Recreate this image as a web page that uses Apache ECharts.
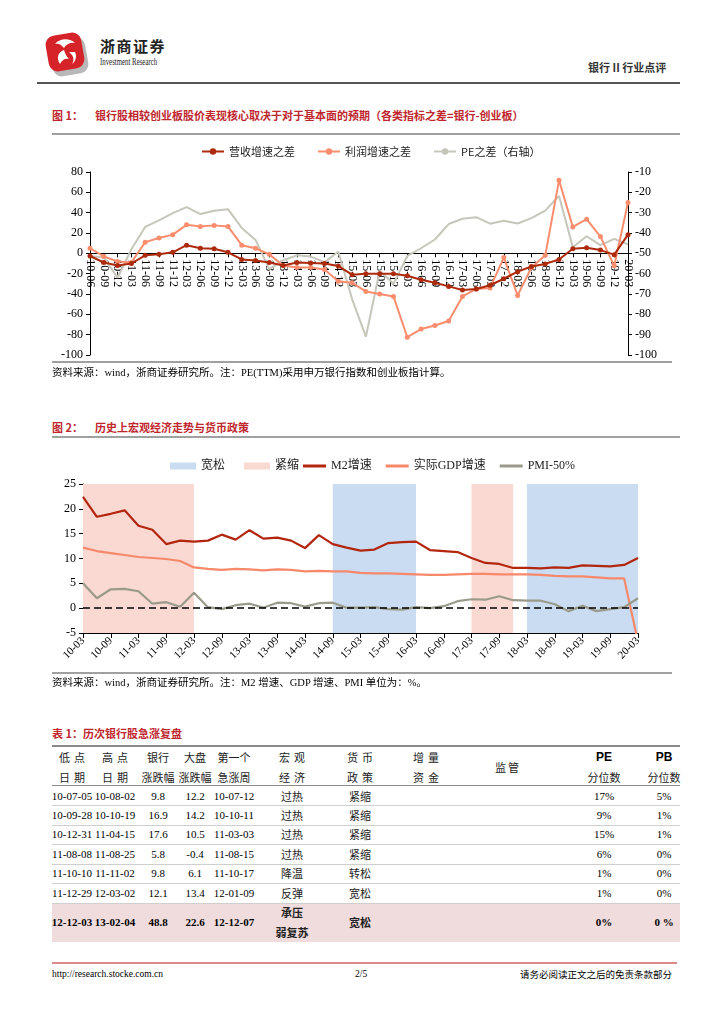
<!DOCTYPE html>
<html><head><meta charset="utf-8">
<script src="https://cdn.jsdelivr.net/npm/echarts@6/dist/echarts.min.js"></script>
<style>
body{margin:0;background:#fff;}
#page{position:relative;width:724px;height:1024px;overflow:hidden;font-family:"Liberation Serif","Noto Sans CJK SC",serif;color:#000;}
.abs{position:absolute;white-space:nowrap;}
.title{position:absolute;font-family:"Noto Sans CJK SC",sans-serif;font-weight:bold;color:#c0262d;font-size:11px;line-height:14px;white-space:nowrap;}
.hr{position:absolute;height:0;border-top:2px solid #a0a0a0;}
.src{position:absolute;font-size:10.5px;line-height:14px;white-space:nowrap;}
.cell{position:absolute;transform:translateX(-50%);white-space:nowrap;line-height:14px;font-size:11px;text-align:center;}
.cn{font-family:"Noto Sans CJK SC",sans-serif;font-size:11px;color:#222;}
.en{font-family:"Liberation Sans",sans-serif;font-weight:bold;font-size:12px;}
.bold{font-weight:bold;}
</style></head>
<body><div id="page">
<!-- header -->
<svg class="abs" style="left:42px;top:28px" width="50" height="52" viewBox="0 0 50 52">
  <rect x="9" y="11" width="36" height="36" rx="9" fill="#b8b8b8" transform="rotate(-10 27 29)"/>
  <rect x="5" y="6" width="36" height="36" rx="9" fill="#d6232a" transform="rotate(-10 23 24)"/>
  <path d="M13 16 C18 10,28 10,33 15 C29 14,24 16,22 20 C19 16,16 15,13 16Z" fill="#fff"/>
  <path d="M22 22 C16 24,14 30,18 36 C20 32,23 30,27 31 C24 28,23 25,22 22Z" fill="#fff"/>
  <path d="M27 24 C31 27,33 31,30 36 C34 33,35 28,33 24Z" fill="#fff"/>
</svg>
<div class="abs" style="left:100px;top:37px;font-family:'Noto Sans CJK SC';font-weight:bold;font-size:15px;letter-spacing:1.5px;line-height:18px;color:#222">浙商证券</div>
<div class="abs" style="left:100px;top:57px;font-family:'Liberation Serif';font-size:9.5px;line-height:11px;transform:scaleX(0.72);transform-origin:left;color:#222">Investment Research</div>
<div class="abs" style="left:588px;top:60px;font-family:'Noto Sans CJK SC';font-weight:bold;font-size:11px;line-height:14px;color:#333">银行 II 行业点评</div>
<div class="hr" style="left:37px;top:82px;width:643px;border-top:2px solid #555"></div>

<!-- figure 1 -->
<div class="title" style="left:52px;top:108px">图 1：<span style="margin-left:12px">银行股相较创业板股价表现核心取决于对于基本面的预期（各类指标之差=银行-创业板）</span></div>
<div class="hr" style="left:52px;top:133px;width:628px"></div>
<div id="c1" class="abs" style="left:0;top:138px;width:724px;height:225px"></div>
<div class="hr" style="left:52px;top:361px;width:620px"></div>
<div class="src" style="left:52px;top:366px">资料来源：wind，浙商证券研究所。注：PE(TTM)采用申万银行指数和创业板指计算。</div>

<!-- figure 2 -->
<div class="title" style="left:52px;top:420px">图 2：<span style="margin-left:12px">历史上宏观经济走势与货币政策</span></div>
<div class="hr" style="left:52px;top:436px;width:628px"></div>
<div id="c2" class="abs" style="left:0;top:448px;width:724px;height:225px"></div>
<div class="hr" style="left:52px;top:672px;width:620px"></div>
<div class="src" style="left:52px;top:676px">资料来源：wind，浙商证券研究所。注：M2 增速、GDP 增速、PMI 单位为：%。</div>

<!-- table -->
<div class="title" style="left:52px;top:726px">表 1：历次银行股急涨复盘</div>
<div id="tbl"></div>

<!-- footer -->
<div class="hr" style="left:52px;top:962px;width:625px;border-top:2px solid #d98a8c"></div>
<div class="abs" style="left:52px;top:968px;font-size:9.5px;line-height:12px">http://research.stocke.com.cn</div>
<div class="abs" style="left:355px;top:968px;font-size:9.5px;line-height:12px">2/5</div>
<div class="abs" style="right:52px;top:968px;font-size:9.5px;line-height:12px;font-family:'Noto Sans CJK SC'">请务必阅读正文之后的免责条款部分</div>
</div>
<script>
// ---------- Figure 1 data ----------
const cats1 = ['10-06','10-09','10-12','11-03','11-06','11-09','11-12','12-03','12-06','12-09','12-12','13-03','13-06','13-09','13-12','14-03','14-06','14-09','14-12','15-03','15-06','15-09','15-12','16-03','16-06','16-09','16-12','17-03','17-06','17-09','17-12','18-03','18-06','18-09','18-12','19-03','19-06','19-09','19-12','20-03'];
const revDiff = [-2.6,-9,-12,-10,-2,-1,1,8,5,4.5,1,-6,-7,-9,-12,-9,-9.5,-10,-12.5,-21,-20,-20,-20,-22,-26,-29,-32.5,-36,-35,-31.4,-25,-18,-13,-10.4,-6,4.5,5.5,3.2,-1.3,18.4];
const profitDiff = [5,-3,-8,-9,11,15,18.4,28,26.5,27.5,26.5,8,5,-1,-12,-14,-14,-16,-27.5,-29,-37.5,-40,-42.4,-82.5,-74.5,-71,-66.5,-42.4,-35,-34,-4.2,-41.4,-14,-2,71.8,26,33.6,16.5,-12.3,50];
const peDiff = [-51.3,-52,-62,-48,-37,-33.8,-30.2,-27.3,-30.7,-29.1,-28.3,-37.5,-43.4,-57.8,-53.4,-51,-51.6,-54.3,-49.2,-72.5,-91,-58.6,-65,-51.3,-47.5,-43.2,-35.6,-33,-32.2,-35.4,-34,-35.3,-32.7,-29,-21.8,-47,-41.6,-46,-42.9,-45.6];

// ---------- Figure 2 data ----------
const cats2 = ['10-03','10-06','10-09','10-12','11-03','11-06','11-09','11-12','12-03','12-06','12-09','12-12','13-03','13-06','13-09','13-12','14-03','14-06','14-09','14-12','15-03','15-06','15-09','15-12','16-03','16-06','16-09','16-12','17-03','17-06','17-09','17-12','18-03','18-06','18-09','18-12','19-03','19-06','19-09','19-12','20-03'];
const m2Growth = [22.4,18.4,19.0,19.7,16.6,15.8,12.9,13.6,13.4,13.6,14.8,13.8,15.7,14.0,14.2,13.6,12.1,14.7,12.9,12.2,11.6,11.8,13.1,13.3,13.4,11.7,11.5,11.3,10.1,9.1,8.9,8.1,8.1,8.0,8.2,8.1,8.6,8.5,8.4,8.7,10.1];
const gdpGrowth = [12.2,11.5,11.1,10.7,10.3,10.1,9.9,9.5,8.2,7.9,7.7,7.9,7.8,7.6,7.8,7.7,7.4,7.5,7.4,7.4,7.1,7.0,7.0,6.9,6.8,6.7,6.7,6.8,6.9,6.9,6.8,6.8,6.8,6.7,6.5,6.4,6.4,6.2,6.0,6.0,-6.8];
const pmiMinus50 = [5.0,2.0,3.8,3.9,3.4,0.9,1.2,0.3,3.1,0.2,-0.2,0.6,0.9,0.1,1.1,1.0,0.3,1.0,1.1,0.1,0.1,0.2,-0.2,-0.3,0.2,0.0,0.4,1.4,1.8,1.7,2.4,1.6,1.5,1.5,0.8,-0.6,0.5,-0.6,-0.2,0.2,2.0];
const easeRanges = [['14-09','16-03'],['18-03','20-03']];
const tightRanges = [['10-03','12-03'],['17-03','17-12']];

// ---------- Table data ----------
const tblHead1 = ['低点','高点','银行','大盘','第一个','宏观','货币','增量','','PE','PB'];
const tblHead2 = ['日期','日期','涨跌幅','涨跌幅','急涨周','经济','政策','资金','','分位数','分位数'];
const tblRows = [
 ['10-07-05','10-08-02','9.8','12.2','10-07-12','过热','紧缩','','','17%','5%'],
 ['10-09-28','10-10-19','16.9','14.2','10-10-11','过热','紧缩','','','9%','1%'],
 ['10-12-31','11-04-15','17.6','10.5','11-03-03','过热','紧缩','','','15%','1%'],
 ['11-08-08','11-08-25','5.8','-0.4','11-08-15','过热','紧缩','','','6%','0%'],
 ['11-10-10','11-11-02','9.8','6.1','11-10-17','降温','转松','','','1%','0%'],
 ['11-12-29','12-03-02','12.1','13.4','12-01-09','反弹','宽松','','','1%','0%'],
 ['12-12-03','13-02-04','48.8','22.6','12-12-07','承压|弱复苏','宽松','','','0%','0 %']
];

(function buildTable(){
  const colX = [72,115,158,195,234,292,360,426,507,604,664];
  const rowY = [796,815,834,854,873,893,922];
  const p = document.getElementById('page');
  let h = '';
  const line = (y,c,w)=>'<div class="hr" style="left:52px;top:'+y+'px;width:628px;border-top:'+w+'px solid '+c+'"></div>';
  h += '<div class="abs" style="left:52px;top:903px;width:628px;height:39px;background:#f1dcdd"></div>';
  h += line(745,'#8a8a8a',2) + line(785,'#8a8a8a',1.5);
  [805,825,844,864,883].forEach(y=>{ h += line(y,'#cfcfcf',1); });
  h += line(903,'#cfcfcf',1);
  const cell = (x,y,txt,cls,extra)=>'<div class="cell '+(cls||'')+'" style="left:'+x+'px;top:'+(y-7)+'px;'+(extra||'')+'">'+txt+'</div>';
  tblHead1.forEach((c,i)=>{
    const en = (c==='PE'||c==='PB');
    const sp = (i<2||(i>=5&&i<8)) ? 'letter-spacing:4px;' : '';
    if(c) h += cell(colX[i]+(sp?2:0),757,c,en?'en':'cn',sp);
    if(tblHead2[i]) h += cell(colX[i]+(sp?2:0),777,tblHead2[i],'cn',sp);
  });
  h += cell(colX[8]+1,767,'监管','cn','letter-spacing:2px;');
  tblRows.forEach((r,ri)=>{
    const last = ri===tblRows.length-1;
    r.forEach((c,i)=>{
      if(!c) return;
      const cls = ((i===5||i===6)?'cn':'') + (last?' bold':'');
      if(c.indexOf('|')>=0){
        const parts=c.split('|');
        h += cell(colX[i],rowY[ri]-10,parts[0],cls);
        h += cell(colX[i],rowY[ri]+10,parts[1],cls);
      } else {
        h += cell(colX[i],rowY[ri],c,cls);
      }
    });
  });
  const d = document.createElement('div');
  d.innerHTML = h;
  while(d.firstChild) p.appendChild(d.firstChild);
})();

const serif = 'Liberation Serif';
const cjk = 'Noto Sans CJK SC';

// ---------- Chart 1 ----------
const c1 = echarts.init(document.getElementById('c1'), null, {renderer:'canvas'});
const g1 = {left:90,right:96,top:34,bottom:8};
const g1h = 225 - g1.top - g1.bottom;
const yMin1 = -100, yMax1 = 80;
const zeroOffset = g1h * (0 - yMin1) / (yMax1 - yMin1);
c1.setOption({
  animation:false,
  textStyle:{fontFamily:serif},
  legend:{top:3,left:196,itemWidth:22,itemHeight:8,itemGap:22,
    textStyle:{fontSize:11,fontFamily:cjk,color:'#222'},
    data:['营收增速之差','利润增速之差','PE之差（右轴）']},
  grid:Object.assign({outerBoundsMode:'none'},g1),
  xAxis:{type:'category',data:cats1,boundaryGap:false,offset:-zeroOffset,
    axisLine:{onZero:false,lineStyle:{color:'#000',width:1}},
    axisTick:{show:true,length:4,lineStyle:{color:'#000'}},
    axisLabel:{rotate:-90,interval:0,fontSize:12,color:'#000',margin:6,fontFamily:serif},
    splitLine:{show:false}},
  yAxis:[
    {type:'value',min:yMin1,max:yMax1,interval:20,
     axisLine:{show:true,lineStyle:{color:'#000'}},axisTick:{show:true,length:4,lineStyle:{color:'#000'}},
     axisLabel:{fontSize:12,color:'#000',margin:7,fontFamily:serif},splitLine:{show:false}},
    {type:'value',position:'right',min:-100,max:-10,interval:10,
     axisLine:{show:true,lineStyle:{color:'#000'}},axisTick:{show:true,length:4,lineStyle:{color:'#000'}},
     axisLabel:{fontSize:12,color:'#000',margin:7,fontFamily:serif},splitLine:{show:false}}
  ],
  series:[
    {name:'营收增速之差',type:'line',data:revDiff,yAxisIndex:0,symbol:'circle',symbolSize:5,showAllSymbol:true,
     lineStyle:{width:2,color:'#ad2a0c'},itemStyle:{color:'#ad2a0c'},z:5},
    {name:'利润增速之差',type:'line',data:profitDiff,yAxisIndex:0,symbol:'circle',symbolSize:5,showAllSymbol:true,
     lineStyle:{width:2,color:'#fa8d6d'},itemStyle:{color:'#fa8d6d'},z:4},
    {name:'PE之差（右轴）',type:'line',data:peDiff,yAxisIndex:1,symbol:'none',
     lineStyle:{width:2,color:'#c6c6bb'},itemStyle:{color:'#c6c6bb'},z:3}
  ]
});

// ---------- Chart 2 ----------
const c2 = echarts.init(document.getElementById('c2'), null, {renderer:'canvas'});
const lineLegendText = {fontSize:12,fontFamily:serif+','+cjk,color:'#222'};
c2.setOption({
  animation:false,
  textStyle:{fontFamily:serif},
  legend:[
    {left:165,top:7,itemWidth:26,itemHeight:7,itemGap:19,icon:'rect',textStyle:lineLegendText,
     data:['宽松','紧缩']},
    {left:298,top:7,itemWidth:23,itemHeight:3,itemGap:14,icon:'rect',textStyle:lineLegendText,
     data:['M2增速','实际GDP增速','PMI-50%']}
  ],
  grid:{left:83,right:86,top:36,bottom:40,outerBoundsMode:'none'},
  xAxis:{type:'category',data:cats2,boundaryGap:false,
    axisLine:{onZero:false,lineStyle:{color:'#000',width:1}},
    axisTick:{show:true,interval:1,length:5,lineStyle:{color:'#000'}},
    axisLabel:{interval:1,rotate:45,fontSize:11,color:'#000',margin:6,fontFamily:serif},
    splitLine:{show:false}},
  yAxis:{type:'value',min:-5,max:25,interval:5,
    axisLine:{show:true,lineStyle:{color:'#000'}},axisTick:{show:true,length:4,lineStyle:{color:'#000'}},
    axisLabel:{fontSize:12,color:'#000',margin:7,fontFamily:serif},splitLine:{show:false}},
  series:[
    {name:'宽松',type:'line',data:[],color:'#c9dcf1',z:1,
     markArea:{silent:true,itemStyle:{color:'#c9dcf1'},data:easeRanges.map(r=>[{xAxis:r[0]},{xAxis:r[1]}])}},
    {name:'紧缩',type:'line',data:[],color:'#f9d9d2',z:1,
     markArea:{silent:true,itemStyle:{color:'#f9d9d2'},data:tightRanges.map(r=>[{xAxis:r[0]},{xAxis:r[1]}])}},
    {name:'M2增速',type:'line',data:m2Growth,symbol:'none',color:'#b3260d',lineStyle:{width:2.2,color:'#b3260d'},z:4,
     markLine:{silent:true,symbol:'none',label:{show:false},lineStyle:{type:[7,4],color:'#000',width:1.5},data:[{yAxis:0}]}},
    {name:'实际GDP增速',type:'line',data:gdpGrowth,symbol:'none',color:'#f7886a',lineStyle:{width:2.2,color:'#f7886a'},z:3},
    {name:'PMI-50%',type:'line',data:pmiMinus50,symbol:'none',color:'#9a9a8b',lineStyle:{width:2.2,color:'#9a9a8b'},z:3}
  ]
});
</script>
</body></html>
